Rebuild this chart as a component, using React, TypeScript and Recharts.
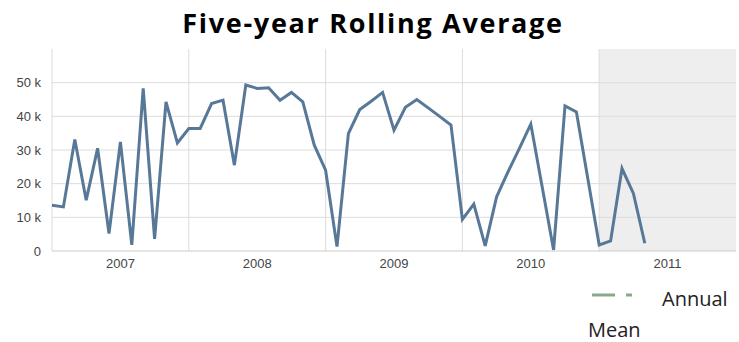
import {
  LineChart, Line, XAxis, YAxis, ReferenceArea, ReferenceLine,
} from 'recharts';

// monthly values starting Jan 2007 (thousands)
const values = [
  13.6, 13.1, 33.1, 15.1, 30.5, 5.2, 32.4, 1.8, 48.3, 3.6, 44.3, 32.1,
  36.4, 36.4, 43.8, 44.8, 25.5, 49.3, 48.3, 48.5, 44.8, 47.1, 44.3, 31.5,
  24.0, 1.3, 34.9, 42.0, 44.5, 47.1, 35.9, 42.7, 45.0, 42.5, 40.0, 37.4,
  9.4, 13.9, 1.5, 16.1, 23.5, 30.5, 37.7, 19.0, 0.3, 43.1, 41.3, 21.5,
  1.8, 3.0, 24.5, 17.1, 2.3,
];
const years = ['2007', '2008', '2009', '2010', '2011'];
const yTicks = [0, 10000, 20000, 30000, 40000, 50000];
const legendItems = ['Annual Mean'];

const data = values.map((v, i) => ({ month: i, value: v * 1000 }));
const yearStarts = years.map((_, i) => i * 12);
const yearMids = years.map((_, i) => i * 12 + 6);

const gridColor = '#dcdcdc';
const tickStyle = { fill: '#444', fontSize: 13, fontFamily: '"Liberation Sans", Arial, sans-serif' };

export default function App() {
  return (
    <div style={{ position: 'absolute', left: 0, top: 0, width: 739, height: 342, background: '#fff' }}>
      <div style={{
        position: 'absolute', left: 0, top: 5, width: 746, textAlign: 'center',
        fontFamily: '"Open Sans", sans-serif', fontWeight: 700, fontSize: 27, color: '#000',
        lineHeight: '36px', letterSpacing: 1.7, whiteSpace: 'nowrap',
      }}>
        Five-year Rolling Average
      </div>
      <LineChart width={739} height={342} data={data} margin={{ top: 49, right: 3, bottom: 61, left: 0 }}>
        <ReferenceArea x1={48} x2={60} y1={0} y2={60000} fill="#000" fillOpacity={0.067} stroke="none" />
        {yTicks.slice(1).map(y => (
          <ReferenceLine key={'y' + y} y={y} stroke={gridColor} />
        ))}
        {yearStarts.map(x => (
          <ReferenceLine key={'x' + x} x={x} stroke={gridColor} />
        ))}
        <XAxis
          dataKey="month"
          type="number"
          domain={[0, 60]}
          ticks={yearMids}
          tickFormatter={v => years[Math.floor((v as number) / 12)]}
          tick={tickStyle}
          axisLine={{ stroke: '#cccccc' }}
          tickLine={false}
          height={30}
        />
        <YAxis
          domain={[0, 60000]}
          ticks={yTicks}
          tickFormatter={v => (v === 0 ? '0' : `${(v as number) / 1000} k`)}
          tick={tickStyle}
          axisLine={false}
          tickLine={false}
          tickMargin={5}
          width={52}
        />
        <Line
          type="linear"
          dataKey="value"
          stroke="#587898"
          strokeWidth={3}
          dot={false}
          isAnimationActive={false}
        />
      </LineChart>
      {legendItems.map(name => (
        <div key={name} style={{
          position: 'absolute', left: 588, top: 283, width: 150,
          fontFamily: '"Open Sans", sans-serif', fontSize: 20, color: '#222',
          lineHeight: '31px', textIndent: 74,
        }}>
          <svg width={42} height={6} style={{ position: 'absolute', left: 4, top: 9 }}>
            <line x1={0} y1={3} x2={23} y2={3} stroke="#8aa88a" strokeWidth={3} />
            <line x1={34} y1={3} x2={40} y2={3} stroke="#8aa88a" strokeWidth={3} />
          </svg>
          {name}
        </div>
      ))}
    </div>
  );
}
